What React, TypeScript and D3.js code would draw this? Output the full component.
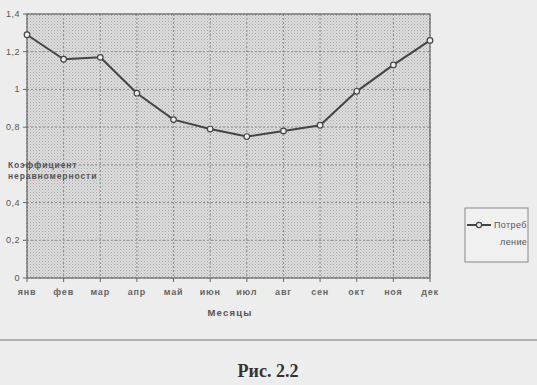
import React from "react";
import * as d3 from "d3";

const months = ["янв", "фев", "мар", "апр", "май", "июн", "июл", "авг", "сен", "окт", "ноя", "дек"];
const consumption = [1.29, 1.16, 1.17, 0.98, 0.84, 0.79, 0.75, 0.78, 0.81, 0.99, 1.13, 1.26];
const yTicks = [0, 0.2, 0.4, 0.6, 0.8, 1, 1.2, 1.4];
const yTickLabels = ["0", "0,2", "0,4", "", "0,8", "1", "1,2", "1,4"];
const seriesName = ["Потреб", "ление"];
const yTitle = ["Коэффициент", "неравномерности"];
const xTitle = "Месяцы";
const caption = "Рис. 2.2";

const W = 537, H = 385;
const plot = { left: 27, right: 430, top: 14, bottom: 278 };

export default function App() {
  const x = d3.scalePoint<string>().domain(months).range([plot.left, plot.right]);
  const y = d3.scaleLinear().domain([0, 1.4]).range([plot.bottom, plot.top]);
  const line = d3.line<number>().x((_, i) => x(months[i])!).y((d) => y(d));
  const lblFont = "'Liberation Sans', Arial, sans-serif";

  return (
    <svg width={W} height={H} style={{ position: "absolute", left: 0, top: 0 }}>
      <defs>
        <pattern id="dots" width="3" height="3" patternUnits="userSpaceOnUse">
          <rect width="3" height="3" fill="#dcdcdc" />
          <rect width="1" height="1" fill="#a9a9a9" />
          <rect x="1.5" y="1.5" width="1" height="1" fill="#b8b8b8" />
        </pattern>
      </defs>
      <rect width={W} height={H} fill="#ededed" />
      <rect x={plot.left} y={plot.top} width={plot.right - plot.left} height={plot.bottom - plot.top} fill="url(#dots)" />
      {/* gridlines */}
      {yTicks.map((t) => (
        <line key={"h" + t} x1={plot.left} x2={plot.right} y1={y(t)} y2={y(t)} stroke="#8a8a8a" strokeWidth={1} strokeDasharray="2,2" />
      ))}
      {months.map((m) => (
        <line key={"v" + m} x1={x(m)} x2={x(m)} y1={plot.top} y2={plot.bottom} stroke="#8a8a8a" strokeWidth={1} strokeDasharray="2,2" />
      ))}
      <rect x={plot.left} y={plot.top} width={plot.right - plot.left} height={plot.bottom - plot.top} fill="none" stroke="#6a6a6a" strokeWidth={1.2} />
      {/* ticks */}
      {yTicks.map((t, i) => (
        <g key={"yt" + t}>
          <line x1={plot.left - 4} x2={plot.left} y1={y(t)} y2={y(t)} stroke="#666" />
          <text x={plot.left - 7} y={y(t) + 3} textAnchor="end" fontFamily={lblFont} fontSize={9} fill="#555" letterSpacing={0.5}>
            {yTickLabels[i]}
          </text>
        </g>
      ))}
      {months.map((m) => (
        <g key={"xt" + m}>
          <line x1={x(m)} x2={x(m)} y1={plot.bottom} y2={plot.bottom + 4} stroke="#666" />
          <text x={x(m)} y={plot.bottom + 17} textAnchor="middle" fontFamily={lblFont} fontSize={9} fill="#666" fontWeight="bold" letterSpacing={0.8}>
            {m}
          </text>
        </g>
      ))}
      <text x={230} y={316} textAnchor="middle" fontFamily={lblFont} fontSize={9.5} fontWeight="bold" fill="#555" letterSpacing={1.2}>
        {xTitle}
      </text>
      {yTitle.map((t, i) => (
        <text key={t} x={8} y={168 + i * 11} fontFamily={lblFont} fontSize={8.5} fontWeight="bold" fill="#555" letterSpacing={0.9}>
          {t}
        </text>
      ))}
      {/* series */}
      <path d={line(consumption) || ""} fill="none" stroke="#444" strokeWidth={2} />
      {consumption.map((v, i) => (
        <circle key={"p" + i} cx={x(months[i])} cy={y(v)} r={2.8} fill="#eee" stroke="#444" strokeWidth={1.2} />
      ))}
      {/* legend */}
      <rect x={465} y={208} width={63} height={54} fill="#f0f0f0" stroke="#888" strokeWidth={1} />
      <line x1={467} x2={491} y1={225} y2={225} stroke="#444" strokeWidth={2} />
      <circle cx={479} cy={225} r={2.6} fill="#eee" stroke="#444" strokeWidth={1.2} />
      <text x={494} y={228} fontFamily={lblFont} fontSize={9} fill="#555" letterSpacing={0.4}>{seriesName[0]}</text>
      <text x={500} y={245} fontFamily={lblFont} fontSize={9} fill="#555" letterSpacing={0.4}>{seriesName[1]}</text>
      {/* page rule and caption */}
      <line x1={0} x2={W} y1={340} y2={340} stroke="#999" strokeWidth={1.5} />
      <text x={268} y={377} textAnchor="middle" fontFamily="'Liberation Serif', 'Times New Roman', serif" fontSize={18} fontWeight="bold" fill="#333">
        {caption}
      </text>
    </svg>
  );
}
